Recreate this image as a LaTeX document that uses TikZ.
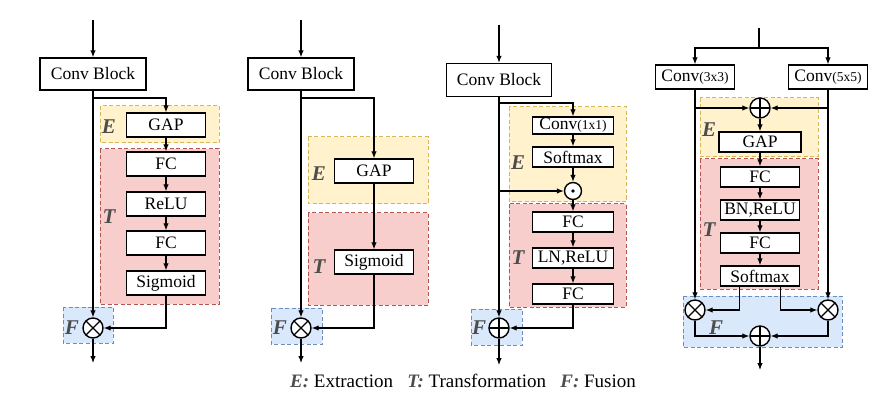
\documentclass[tikz,border=0pt]{standalone}
\usepackage{fontspec}
\setmainfont{Liberation Serif}
\usetikzlibrary{arrows.meta,positioning,calc}

\definecolor{eFill}{HTML}{FFF2CC}
\definecolor{eLine}{HTML}{D6B656}
\definecolor{tFill}{HTML}{F8CECC}
\definecolor{tLine}{HTML}{B85450}
\definecolor{fFill}{HTML}{DAE8FC}
\definecolor{fLine}{HTML}{6C8EBF}
\definecolor{labGray}{HTML}{4D4D4D}

\tikzset{
  blk/.style={draw, line width=1.4pt, fill=white, minimum width=79pt, minimum height=24pt,
    inner sep=1pt, font=\fontsize{17.5}{18}\selectfont},
  cblk/.style={blk, minimum width=106pt, minimum height=32pt},
  sblk/.style={blk, minimum width=81pt, minimum height=20pt},
  arr/.style={-{Latex[length=7pt,width=5.5pt]}, line width=1.1pt},
  ln/.style={line width=1.1pt},
  ereg/.style={fill=eFill, draw=eLine, dash pattern=on 4pt off 2.5pt, line width=1pt},
  treg/.style={fill=tFill, draw=tLine, dash pattern=on 4pt off 2.5pt, line width=1pt},
  freg/.style={fill=fFill, draw=fLine, dash pattern=on 4pt off 2.5pt, line width=1pt},
  lab/.style={font=\fontsize{21}{22}\selectfont\bfseries\itshape, text=labGray, inner sep=0pt},
  opc/.style={circle, draw, line width=1.4pt, minimum size=20pt, inner sep=0pt, fill=white},
  otimes/.style={opc, path picture={\draw[black, line width=1.4pt]
      (path picture bounding box.north west) -- (path picture bounding box.south east)
      (path picture bounding box.north east) -- (path picture bounding box.south west);}},
  oplus/.style={opc, path picture={\draw[black, line width=1.4pt]
      (path picture bounding box.north) -- (path picture bounding box.south)
      (path picture bounding box.west) -- (path picture bounding box.east);}},
  odot/.style={opc, minimum size=17pt, path picture={\fill[black] (path picture bounding box.center) circle (1.8pt);}},
}
\newcommand{\sm}[1]{{\fontsize{13.5}{14}\selectfont #1}}

\begin{document}
\begin{tikzpicture}[x=1pt, y=-1pt]
    \useasboundingbox (0,0) rectangle (887,401);

    % ---- block 1 : SE ----
    \draw[ereg] (100,106) rectangle (219,143);
    \draw[treg] (100,149) rectangle (219,304);
    \draw[freg] (63,307) rectangle (113,343);
    \coordinate (in1) at (93,20);
    \coordinate (sp1) at (93,98);
    \coordinate (out1) at (93,363);
    \node[cblk] (cb1) at (93,74) {Conv Block};
    \node[blk] (gap1) at (166,125) {GAP};
    \node[blk] (fc1a) at (166,164) {FC};
    \node[blk] (relu1) at (166,204) {ReLU};
    \node[blk] (fc1b) at (166,243) {FC};
    \node[blk] (sig1) at (166,283) {Sigmoid};
    \node[otimes] (mul1) at (93,328) {};
    \node[lab] (e1) at (109,127) {E};
    \node[lab] (t1) at (109,217) {T};
    \node[lab] (f1) at (72,328) {F};
    \draw[arr] (in1) -- (cb1);
    \draw[arr] (cb1) -- (mul1);
    \draw[arr] (sp1) -| (gap1);
    \draw[arr] (gap1) -- (fc1a);
    \draw[arr] (fc1a) -- (relu1);
    \draw[arr] (relu1) -- (fc1b);
    \draw[arr] (fc1b) -- (sig1);
    \draw[arr] (sig1) |- (mul1);
    \draw[arr] (mul1) -- (out1);

    % ---- block 2 ----
    \draw[ereg] (308,137) rectangle (428,204);
    \draw[treg] (308,213) rectangle (428,305);
    \draw[freg] (271,308) rectangle (322,344);
    \coordinate (in2) at (301,20);
    \coordinate (sp2) at (301,98);
    \coordinate (out2) at (301,363);
    \node[cblk] (cb2) at (301,74) {Conv Block};
    \node[blk] (gap2) at (374,171) {GAP};
    \node[blk] (sig2) at (374,262) {Sigmoid};
    \node[otimes] (mul2) at (301,328) {};
    \node[lab] (e2) at (319,174) {E};
    \node[lab] (t2) at (319,267) {T};
    \node[lab] (f2) at (280,328) {F};
    \draw[arr] (in2) -- (cb2);
    \draw[arr] (cb2) -- (mul2);
    \draw[arr] (sp2) -| (gap2);
    \draw[arr] (gap2) -- (sig2);
    \draw[arr] (sig2) |- (mul2);
    \draw[arr] (mul2) -- (out2);

    % ---- block 3 : GC ----
    \draw[ereg] (509,107) rectangle (626,202);
    \draw[treg] (509,204) rectangle (626,307);
    \draw[freg] (471,309) rectangle (522,345);
    \coordinate (in3) at (499,25);
    \coordinate (sp3) at (499,103);
    \coordinate (sd3) at (499,191);
    \coordinate (out3) at (499,365);
    \node[cblk, minimum width=105pt, minimum height=33pt] (cb3) at (499,80) {Conv Block};
    \node[sblk, minimum height=17pt] (cv3) at (573,125.5) {Conv\sm{(1x1)}};
    \node[sblk] (sm3) at (573,157) {Softmax};
    \node[odot] (dot3) at (573,191) {};
    \node[sblk] (fc3a) at (573,222) {FC};
    \node[sblk] (lnr3) at (573,258) {LN,ReLU};
    \node[sblk] (fc3b) at (573,294) {FC};
    \node[oplus] (add3) at (499,328) {};
    \node[lab] (e3) at (518,163) {E};
    \node[lab] (t3) at (518,258) {T};
    \node[lab] (f3) at (479,328) {F};
    \draw[arr] (in3) -- (cb3);
    \draw[arr] (cb3) -- (add3);
    \draw[arr] (sp3) -| (cv3);
    \draw[arr] (cv3) -- (sm3);
    \draw[arr] (sm3) -- (dot3);
    \draw[arr] (sd3) -- (dot3);
    \draw[arr] (dot3) -- (fc3a);
    \draw[arr] (fc3a) -- (lnr3);
    \draw[arr] (lnr3) -- (fc3b);
    \draw[arr] (fc3b) |- (add3);
    \draw[arr] (add3) -- (out3);

    % ---- block 4 : SK ----
    \draw[ereg] (700,98) rectangle (818,157);
    \draw[treg] (700,159) rectangle (818,289);
    \draw[freg] (683,296) rectangle (842,347);
    \coordinate (in4) at (759,28);
    \coordinate (sp4) at (759,48);
    \coordinate (l4) at (695,108);
    \coordinate (r4) at (828,108);
    \coordinate (out4) at (760,370);
    \node[blk] (c33) at (695,77) {Conv\sm{(3x3)}};
    \node[blk] (c55) at (828,77) {Conv\sm{(5x5)}};
    \node[oplus] (add4a) at (760,108) {};
    \node[sblk, minimum width=82pt] (gap4) at (760,142) {GAP};
    \node[sblk, minimum width=79pt] (fc4a) at (760,177) {FC};
    \node[sblk, minimum width=79pt] (bnr4) at (760,210) {BN,ReLU};
    \node[sblk, minimum width=79pt] (fc4b) at (760,243) {FC};
    \node[sblk, minimum width=79pt] (sm4) at (760,276) {Softmax};
    \node[otimes] (mul4a) at (695,310) {};
    \node[otimes] (mul4b) at (828,310) {};
    \node[oplus] (add4b) at (760,336) {};
    \node[lab] (e4) at (709,130) {E};
    \node[lab] (t4) at (709,230) {T};
    \node[lab] (f4) at (716,328) {F};
    \draw[ln] (in4) -- (sp4);
    \draw[arr] (sp4) -| (c33);
    \draw[arr] (sp4) -| (c55);
    \draw[arr] (c33) -- (mul4a);
    \draw[arr] (c55) -- (mul4b);
    \draw[arr] (l4) -- (add4a);
    \draw[arr] (r4) -- (add4a);
    \draw[arr] (add4a) -- (gap4);
    \draw[arr] (gap4) -- (fc4a);
    \draw[arr] (fc4a) -- (bnr4);
    \draw[arr] (bnr4) -- (fc4b);
    \draw[arr] (fc4b) -- (sm4);
    \draw[arr] ([xshift=20pt]sm4.south west) |- (mul4a);
    \draw[arr] ([xshift=-20pt]sm4.south east) |- (mul4b);
    \draw[arr] (mul4a) |- (add4b);
    \draw[arr] (mul4b) |- (add4b);
    \draw[arr] (add4b) -- (out4);

    % legend
    \node[font=\fontsize{19}{21}\selectfont] (legend) at (463,381)
      {\textcolor{labGray}{\textbf{\textit{E:}}} Extraction\hspace{0.5em}
       \textcolor{labGray}{\textbf{\textit{T:}}} Transformation\hspace{0.5em}
       \textcolor{labGray}{\textbf{\textit{F:}}} Fusion};
\end{tikzpicture}
\end{document}
